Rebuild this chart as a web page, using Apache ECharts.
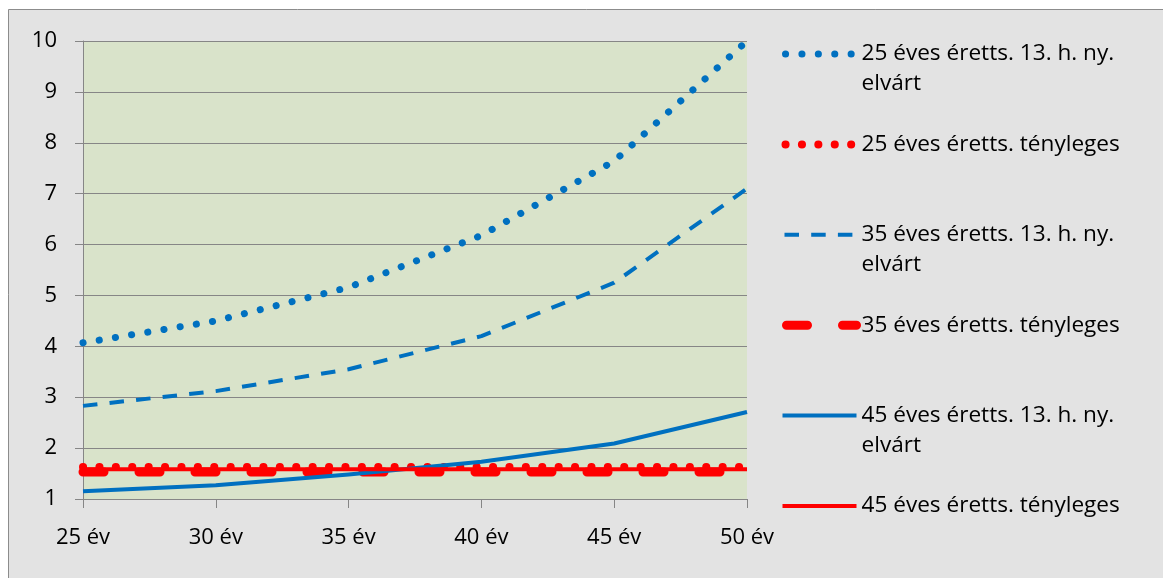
<!DOCTYPE html>
<html>
<head>
<meta charset="utf-8">
<style>
  html, body { margin: 0; padding: 0; background: #ffffff; }
  #chart { width: 1163px; height: 578px; }
</style>
<script src="https://cdn.jsdelivr.net/npm/echarts@6/dist/echarts.min.js"></script>
</head>
<body>
<div id="chart"></div>
<script>
// Age at which the annuity starts (x axis)
const ages = ['25 év', '30 év', '35 év', '40 év', '45 év', '50 év'];

// Series names (legend order)
const names = [
  '25 éves éretts. 13. h. ny. elvárt',
  '25 éves éretts. tényleges',
  '35 éves éretts. 13. h. ny. elvárt',
  '35 éves éretts. tényleges',
  '45 éves éretts. 13. h. ny. elvárt',
  '45 éves éretts. tényleges'
];

// Values per series
const expected25 = [4.07, 4.50, 5.16, 6.18, 7.64, 10.0];
const actual25   = [1.63, 1.63, 1.63, 1.63, 1.63, 1.63];
const expected35 = [2.83, 3.12, 3.55, 4.20, 5.25, 7.10];
const actual35   = [1.53, 1.53, 1.53, 1.53, 1.53, 1.53];
const expected45 = [1.15, 1.27, 1.48, 1.73, 2.09, 2.71];
const actual45   = [1.585, 1.585, 1.585, 1.585, 1.585, 1.585];

// Y axis range
const yMin = 1, yMax = 10, yStep = 1;

const BLUE = '#0070C0';
const RED = '#FF0000';
const FONT = 'Open Sans';

const styles = [
  { color: BLUE, width: 7, type: [0.1, 16.3], cap: 'round', legendOffset: -3 },
  { color: RED,  width: 8, type: [0.1, 16.3], cap: 'round', legendOffset: -3 },
  { color: BLUE, width: 4, type: [14.5, 12.2], cap: 'butt', legendOffset: -2 },
  { color: RED,  width: 9, type: [21, 35], cap: 'round', legendOffset: -4 },
  { color: BLUE, width: 4, type: 'solid', cap: 'butt', legendOffset: 0 },
  { color: RED,  width: 4, type: 'solid', cap: 'butt', legendOffset: 0 }
];
const values = [expected25, actual25, expected35, actual35, expected45, actual45];

const series = names.map((name, i) => ({
  name: name,
  type: 'line',
  data: values[i],
  symbol: 'none',
  showSymbol: false,
  animation: false,
  itemStyle: { color: styles[i].color },
  lineStyle: {
    color: styles[i].color,
    width: styles[i].width,
    type: styles[i].type,
    cap: styles[i].cap,
    join: 'round'
  }
}));

const chart = echarts.init(document.getElementById('chart'), null, { renderer: 'canvas' });

chart.setOption({
  backgroundColor: '#ffffff',
  animation: false,
  textStyle: { fontFamily: FONT },
  graphic: [{
    type: 'rect',
    z: -10,
    silent: true,
    shape: { x: 8.5, y: 9.5, width: 1170, height: 580 },
    style: { fill: '#E3E3E3', stroke: '#8C8C8C', lineWidth: 1 }
  }],
  grid: {
    left: 83, top: 41, width: 664, height: 458,
    show: true, backgroundColor: '#D9E3CA', borderWidth: 0,
    containLabel: false
  },
  legend: {
    orient: 'vertical',
    left: 778, top: 9,
    padding: 0,
    itemGap: 0.4,
    itemWidth: 74,
    itemHeight: 10,
    selectedMode: false,
    textStyle: { fontFamily: FONT, fontSize: 22.6, color: '#000', lineHeight: 30 },
    formatter: function (name) {
      const parts = name.replace(' elvárt', '\nelvárt');
      return '\n' + parts + (parts.indexOf('\n') >= 0 ? '' : '\n ');
    },
    data: names.map((name, i) => ({
      name: name,
      itemStyle: { opacity: 0 },
      lineStyle: {
        color: styles[i].color,
        width: styles[i].width,
        type: styles[i].type,
        cap: styles[i].cap,
        dashOffset: styles[i].legendOffset,
        opacity: 1
      }
    }))
  },
  xAxis: {
    type: 'category',
    data: ages,
    boundaryGap: false,
    axisLine: { show: true, lineStyle: { color: '#868686', width: 1 } },
    axisTick: { show: true, length: 9, lineStyle: { color: '#868686' } },
    axisLabel: { color: '#000', fontSize: 22, fontFamily: FONT, margin: 28 },
    splitLine: { show: false }
  },
  yAxis: {
    type: 'value',
    min: yMin, max: yMax, interval: yStep,
    axisLine: { show: true, lineStyle: { color: '#868686', width: 1 } },
    axisTick: { show: true, length: 8, lineStyle: { color: '#868686' } },
    axisLabel: { color: '#000', fontSize: 22, fontFamily: FONT, margin: 26 },
    splitLine: { show: true, lineStyle: { color: '#868686', width: 1 } }
  },
  series: series
});
</script>
</body>
</html>
